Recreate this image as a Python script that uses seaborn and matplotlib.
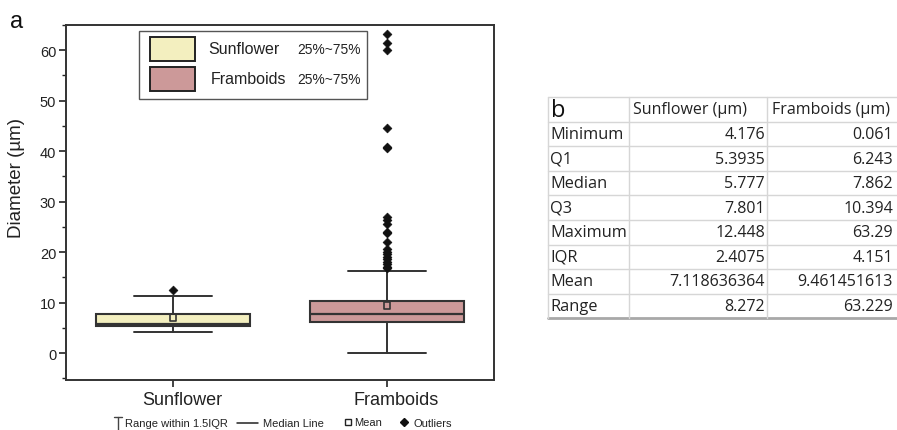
import matplotlib
matplotlib.use("Agg")
import matplotlib.pyplot as plt
import seaborn as sns
import pandas as pd
from matplotlib.patches import Rectangle
from matplotlib.lines import Line2D
from matplotlib.ticker import MultipleLocator

# ---------------- data ----------------
categories = ["Sunflower", "Framboids"]
stat_names = ["Minimum", "Q1", "Median", "Q3", "Maximum", "IQR", "Mean", "Range"]
sunflower_stats = [4.176, 5.3935, 5.777, 7.801, 12.448, 2.4075, 7.118636364, 8.272]
framboids_stats = [0.061, 6.243, 7.862, 10.394, 63.29, 4.151, 9.461451613, 63.229]
# whisker ends (range within 1.5 IQR)
whisker_low = [4.176, 0.061]
whisker_high = [11.4, 16.2]
# outliers
sunflower_outliers = [12.448]
framboids_outliers = [63.29, 61.5, 60.0, 44.7, 40.9, 40.6, 27.0, 26.3, 25.5, 24.0,
                      23.8, 22.0, 20.6, 20.1, 19.6, 19.1, 18.6, 18.1, 17.6, 17.1, 16.8]
fill_colors = ["#F3EFBF", "#CC9999"]
edge = "#333333"

W, H = 897, 431
sns.set_theme(style="ticks")
plt.rcParams["font.family"] = ["Liberation Sans", "DejaVu Sans"]

fig = plt.figure(figsize=(W / 100, H / 100), dpi=100)


def P(x, y):
    return x / W, 1 - y / H


ax = fig.add_axes([66 / W, 1 - 381 / H, (494 - 66) / W, (381 - 26) / H])

all_stats = [sunflower_stats, framboids_stats]
bxp_stats = []
for i, name in enumerate(categories):
    s = all_stats[i]
    bxp_stats.append(dict(label=name, q1=s[1], med=s[2], q3=s[3], mean=s[6],
                          whislo=whisker_low[i], whishi=whisker_high[i], fliers=[]))

bp = ax.bxp(bxp_stats, positions=[0, 1], widths=0.72, capwidths=0.36,
            patch_artist=True, showmeans=False, showfliers=False,
            boxprops=dict(edgecolor=edge, linewidth=1.5),
            medianprops=dict(color=edge, linewidth=1.6),
            whiskerprops=dict(color=edge, linewidth=1.4),
            capprops=dict(color=edge, linewidth=1.4))
for patch, c in zip(bp["boxes"], fill_colors):
    patch.set_facecolor(c)

# outliers and means through seaborn
out_df = pd.DataFrame({
    "x": [0] * len(sunflower_outliers) + [1] * len(framboids_outliers),
    "y": sunflower_outliers + framboids_outliers,
})
sns.scatterplot(data=out_df, x="x", y="y", marker="D", s=20, color="#111111",
                edgecolor="#111111", linewidth=0.5, ax=ax, zorder=4, legend=False)
mean_df = pd.DataFrame({"x": [0, 1], "y": [s[6] for s in all_stats]})
sns.scatterplot(data=mean_df, x="x", y="y", marker="s", s=22, facecolor="none",
                edgecolor=edge, linewidth=1.2, ax=ax, zorder=5, legend=False)

ax.set_xlim(-0.5, 1.5)
ax.set_ylim(-5.3, 65)
# tick marks at the box centres; labels sit slightly right of them (as in the reference)
ax.set_xticks([0, 1])
ax.set_xticklabels(["", ""])
ax.set_xticks([0.042, 1.042], minor=True)
ax.set_xticklabels(categories, minor=True, fontsize=13)
ax.tick_params(axis="x", which="minor", length=0, pad=8, colors="#222222")
ax.set_xlabel("")
ax.set_ylabel("Diameter (µm)", fontsize=13.5, color="#222222")
ax.yaxis.set_label_coords(-0.096, 0.572)
ax.yaxis.set_major_locator(MultipleLocator(10))
ax.yaxis.set_minor_locator(MultipleLocator(5))
ax.tick_params(axis="y", which="major", labelsize=10.5, length=5, width=1.2,
               pad=2, colors="#222222")
ax.tick_params(axis="y", which="minor", length=3, width=1.0, colors="#222222")
ax.tick_params(axis="x", which="major", length=5, width=1.2, colors="#222222")
for sp in ax.spines.values():
    sp.set_visible(True)
    sp.set_linewidth(1.4)
    sp.set_color("#333333")

# ---------------- in-plot legend ----------------
x0, y0 = P(139, 100)
x1, y1 = P(367, 32)
fig.patches.append(Rectangle((x0, y0), x1 - x0, y1 - y0, transform=fig.transFigure,
                             facecolor="white", edgecolor="#555555", linewidth=1.0, zorder=6))
row_y = [50, 80]
text_x = [208, 211]
for i, name in enumerate(categories):
    px0, py0 = P(150, row_y[i] + 12)
    px1, py1 = P(195, row_y[i] - 12)
    fig.patches.append(Rectangle((px0, py0), px1 - px0, py1 - py0, transform=fig.transFigure,
                                 facecolor=fill_colors[i], edgecolor="#222222",
                                 linewidth=1.4, zorder=7))
    fig.text(*P(text_x[i], row_y[i]), name, fontsize=11.5, va="center", ha="left",
             color="#222222", zorder=8)
    fig.text(*P(297, row_y[i]), "25%~75%", fontsize=9.9, va="center", ha="left",
             color="#222222", zorder=8)

# ---------------- panel label ----------------
fig.text(*P(10, 22), "a", fontsize=17, va="center", ha="left", color="#111111")

# ---------------- bottom legend ----------------
ly = 424
fig.add_artist(Line2D([118 / W, 118 / W], [1 - 418 / H, 1 - 431 / H], color="#444444", lw=1.0))
fig.add_artist(Line2D([114 / W, 122 / W], [1 - 418 / H, 1 - 418 / H], color="#444444", lw=1.0))
fig.text(*P(125, ly), "Range within 1.5IQR", fontsize=8, va="center", ha="left", color="#222222")
fig.add_artist(Line2D([237 / W, 258 / W], [1 - ly / H, 1 - ly / H], color="#222222", lw=1.1))
fig.text(*P(263, ly), "Median Line", fontsize=8, va="center", ha="left", color="#222222")
fig.add_artist(Line2D([348 / W], [1 - 423 / H], marker="s", markersize=4, markerfacecolor="none",
                      markeredgecolor="#222222", markeredgewidth=1.0, linestyle="none"))
fig.text(*P(354, ly - 1), "Mean", fontsize=8, va="center", ha="left", color="#222222")
fig.add_artist(Line2D([404 / W], [1 - 423 / H], marker="D", markersize=4, color="#111111",
                      linestyle="none"))
fig.text(*P(413, ly), "Outliers", fontsize=8, va="center", ha="left", color="#222222")

# ---------------- table (b) ----------------
tfont = ["Open Sans", "DejaVu Sans"]
top, rh = 98, 24.6
n_rows = len(stat_names) + 1
col_lines = [548, 629, 767, 898]
grid_c = "#D6D6D6"
for k in range(n_rows + 1):
    y = top + k * rh
    if k == n_rows:
        fig.add_artist(Line2D([548 / W, 1.0], [1 - y / H, 1 - y / H], color="#A8A8A8", lw=2.0))
    else:
        fig.add_artist(Line2D([548 / W, 1.0], [1 - y / H, 1 - y / H], color=grid_c, lw=1.0))
for cx in col_lines:
    fig.add_artist(Line2D([cx / W, cx / W], [1 - top / H, 1 - (top + n_rows * rh) / H],
                          color=grid_c, lw=1.0))

fig.text(*P(551, top + rh / 2 + 1), "b", fontsize=17, va="center", ha="left",
         family=tfont, color="#111111")
fig.text(*P(633, top + rh / 2), categories[0] + " (µm)", fontsize=11.5, va="center",
         ha="left", family=tfont, color="#222222")
fig.text(*P(772, top + rh / 2), categories[1] + " (µm)", fontsize=11.5, va="center",
         ha="left", family=tfont, color="#222222")
for r, name in enumerate(stat_names):
    yc = top + (r + 1.5) * rh
    fig.text(*P(550, yc), name, fontsize=11.8, va="center", ha="left",
             family=tfont, color="#222222")
    fig.text(*P(765, yc), str(sunflower_stats[r]), fontsize=11.5, va="center", ha="right",
             family=tfont, color="#222222")
    fig.text(*P(893, yc), str(framboids_stats[r]), fontsize=11.5, va="center", ha="right",
             family=tfont, color="#222222")

fig.savefig("out.png", dpi=100)
